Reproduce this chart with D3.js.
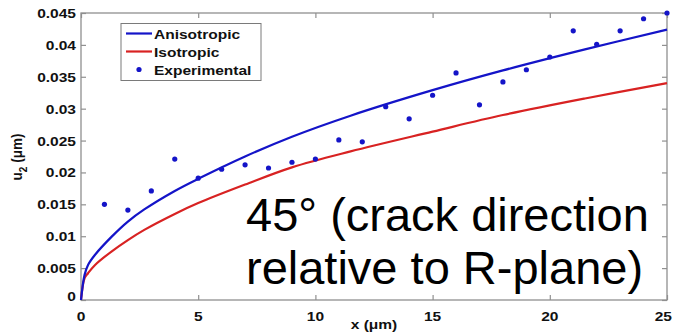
<!DOCTYPE html>
<html><head><meta charset="utf-8">
<script src="https://cdn.jsdelivr.net/npm/d3@7"></script>
<style>body{margin:0;background:#fff}svg{display:block}</style>
</head><body>
<script>
// ---- data ----
const curveX      = [0, 0.15, 0.3, 0.6, 1.3, 2, 2.7, 4, 5, 7, 9, 11.5, 15, 18, 21.5, 25];
const anisotropic = [0, 0.0039, 0.0055, 0.0071, 0.0099, 0.0123, 0.0142, 0.0171, 0.0190, 0.0225, 0.0256, 0.0289, 0.0329, 0.0360, 0.0393, 0.0424];
const isotropic   = [0, 0.0034, 0.0042, 0.0055, 0.0076, 0.0094, 0.0110, 0.0135, 0.0152, 0.0181, 0.0208, 0.0233, 0.0264, 0.0290, 0.0316, 0.0340];
const expX = [1,2,3,4,5,6,7,8,9,10,11,12,13,14,15,16,17,18,19,20,21,22,23,24,25];
const expY = [0.0150,0.0141,0.0171,0.0221,0.0191,0.0205,0.0212,0.0207,0.0216,0.0221,0.0251,0.0248,0.0303,0.0284,0.0321,0.0356,0.0306,0.0342,0.0361,0.0381,0.0422,0.0401,0.0422,0.0441,0.0450];
const xTicks = [0,5,10,15,20,25];
const yTicks = [0,0.005,0.01,0.015,0.02,0.025,0.03,0.035,0.04,0.045];
const legendLabels = ["Anisotropic","Isotropic","Experimental"];
const annotation = ["45\u00B0 (crack direction","relative to R-plane)"];

// ---- layout ----
const W = 673, H = 335;
const L = 81, R = 667, T = 13, B = 300;
const SX = 1.15; // horizontal stretch of the original figure text
const blue = "#1414c8", red = "#d82222", axisCol = "#909090";
const font = "'Liberation Sans', Arial, sans-serif";

const svg = d3.select("body").append("svg").attr("width", W).attr("height", H);
const x = d3.scaleLinear().domain([0,25]).range([L,R]);
const y = d3.scaleLinear().domain([0,0.045]).range([B,T]);

const fmtY = d => d === 0 ? "0" : d3.format("")(+d.toFixed(3));

// axes (MATLAB-style box, ticks inside, both sides)
const tick = 5;
const gB = svg.append("g").attr("transform",`translate(0,${B})`)
  .call(d3.axisBottom(x).tickValues(xTicks).tickSize(-tick).tickFormat(""));
const gT = svg.append("g").attr("transform",`translate(0,${T})`)
  .call(d3.axisTop(x).tickValues(xTicks).tickSize(-tick).tickFormat(""));
const gL = svg.append("g").attr("transform",`translate(${L},0)`)
  .call(d3.axisLeft(y).tickValues(yTicks).tickSize(-tick).tickFormat(""));
const gR = svg.append("g").attr("transform",`translate(${R},0)`)
  .call(d3.axisRight(y).tickValues(yTicks).tickSize(-tick).tickFormat(""));
[gB,gT,gL,gR].forEach(g=>{
  g.selectAll("path,line").attr("stroke",axisCol).attr("stroke-width",1.2);
  g.select(".domain").attr("d", null);
});
svg.append("rect").attr("x",L).attr("y",T).attr("width",R-L).attr("height",B-T)
  .attr("fill","none").attr("stroke",axisCol).attr("stroke-width",1.3);

// tick labels
function stretchedText(g, px, py, txt, anchor){
  return g.append("text").attr("transform",`translate(${px},${py}) scale(${SX},1)`)
    .attr("text-anchor",anchor).text(txt);
}
const lab = svg.append("g").attr("font-family",font).attr("font-weight","bold")
  .attr("font-size",13.5).attr("fill","#111");
xTicks.forEach(v=>{
  if (v === 25) stretchedText(lab, W-1, B+21, String(v), "end");
  else stretchedText(lab, x(v), B+21, String(v), "middle");
});
yTicks.forEach(v=>stretchedText(lab, L-5, y(v)+ (v===0 ? 1 : 5), fmtY(v), "end"));

// axis titles
const xt = stretchedText(lab, (L+R)/2, 329, "", "middle");
xt.text("x (\u03BCm)");
const yt = lab.append("text").attr("transform",`translate(22,157) rotate(-90) scale(1,${SX})`)
  .attr("text-anchor","middle");
yt.append("tspan").text("u");
yt.append("tspan").attr("font-size",10).attr("dy",4).text("2");
yt.append("tspan").attr("dy",-4).text(" (\u03BCm)");

// curves
const line = d3.line().curve(d3.curveCatmullRom.alpha(0.5)).x((d,i)=>x(curveX[i])).y(d=>y(d));
svg.append("path").datum(isotropic).attr("d",line).attr("fill","none")
  .attr("stroke",red).attr("stroke-width",2.2);
svg.append("path").datum(anisotropic).attr("d",line).attr("fill","none")
  .attr("stroke",blue).attr("stroke-width",2.2);

// experimental points
svg.append("g").selectAll("circle").data(expY).join("circle")
  .attr("cx",(d,i)=>x(expX[i])).attr("cy",d=>y(d)).attr("r",2.6).attr("fill",blue);

// legend
const lg = svg.append("g");
lg.append("rect").attr("x",121).attr("y",23.5).attr("width",140).attr("height",57)
  .attr("fill","#fff").attr("stroke","#7a7a7a").attr("stroke-width",1);
const lgCols = [blue, red, blue];
legendLabels.forEach((t,i)=>{
  const cy = 33.5 + i*18;
  if (i < 2) lg.append("line").attr("x1",126).attr("x2",152).attr("y1",cy).attr("y2",cy)
      .attr("stroke",lgCols[i]).attr("stroke-width",2.2);
  else lg.append("circle").attr("cx",139).attr("cy",cy).attr("r",2.6).attr("fill",blue);
  lg.append("text").attr("transform",`translate(154,${cy+5}) scale(${SX},1)`)
    .attr("font-family",font).attr("font-weight","bold").attr("font-size",13.5)
    .attr("fill","#111").text(t);
});

// annotation
const an = svg.append("g").attr("font-family",font).attr("font-size",47).attr("fill","#000");
annotation.forEach((t,i)=>an.append("text").attr("x",246).attr("y",231 + i*53).text(t));
</script>
</body></html>
